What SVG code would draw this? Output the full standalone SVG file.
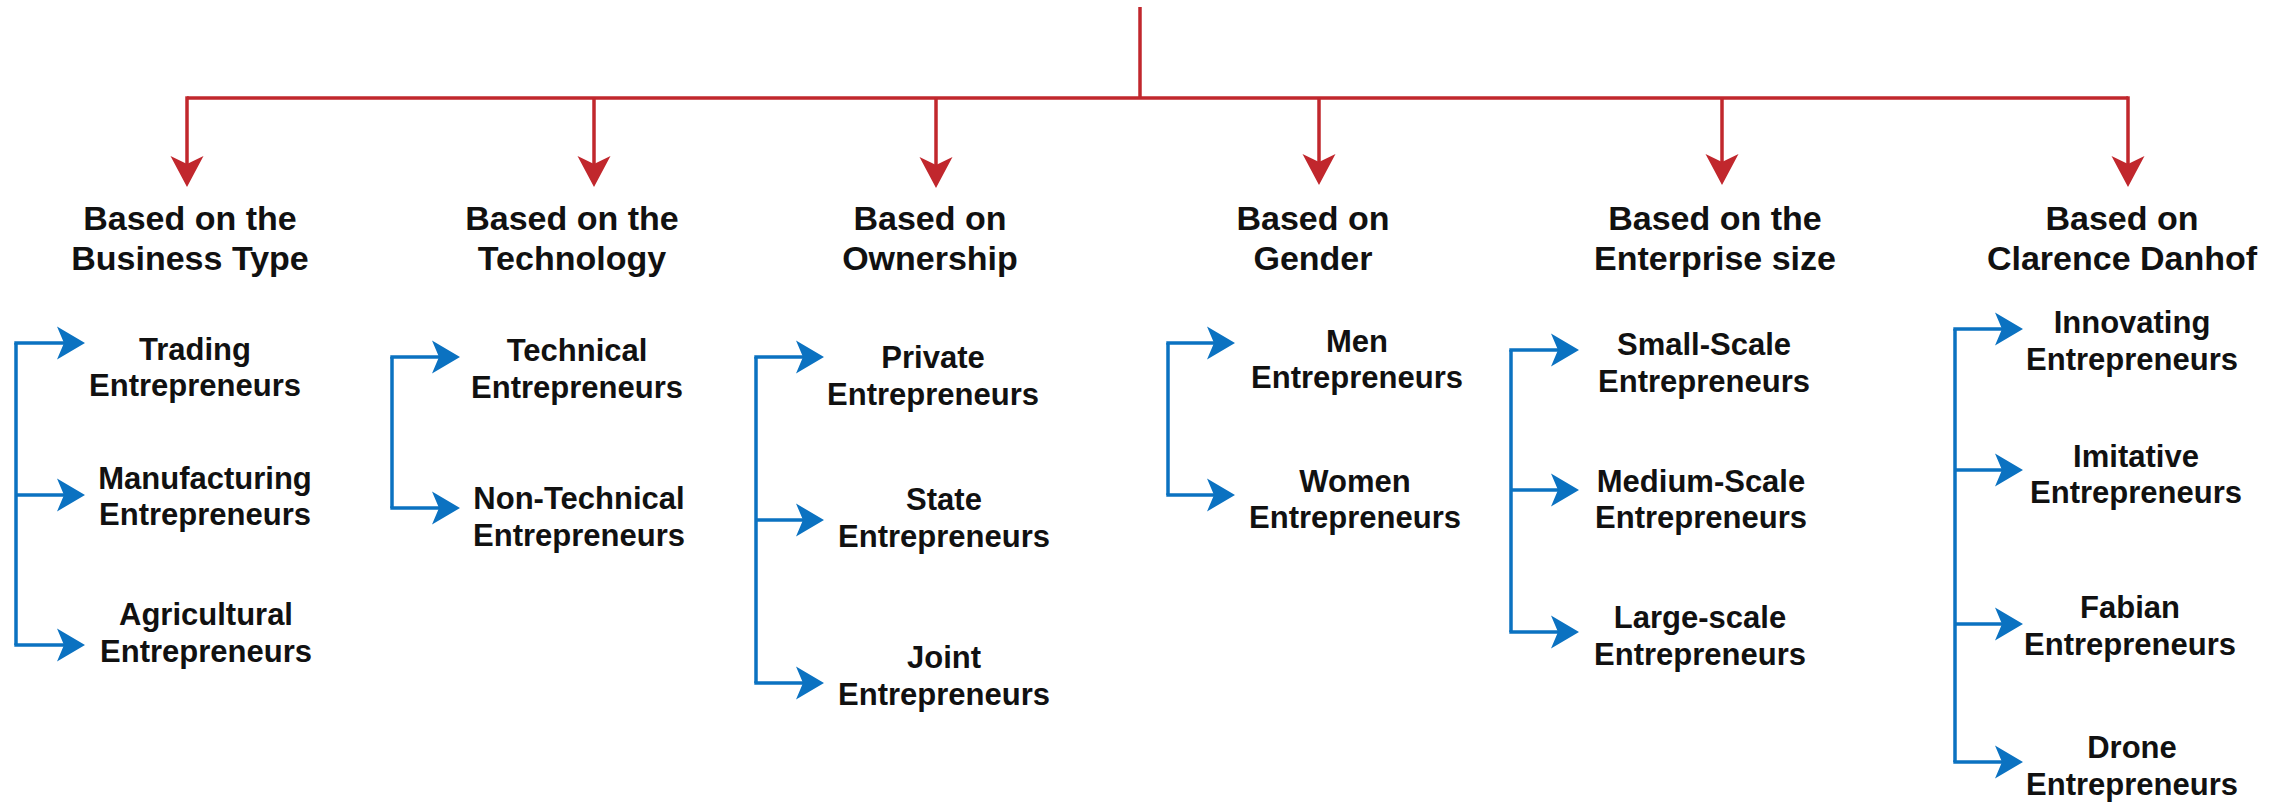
<svg xmlns="http://www.w3.org/2000/svg" width="2288" height="803" viewBox="0 0 2288 803">
<style>
text{font-family:"Liberation Sans",Arial,Helvetica,sans-serif;font-weight:bold;fill:#111;text-anchor:middle}
.h{font-size:34px}
.c{font-size:31px}
.red{stroke:#C1272D;stroke-width:3.5;fill:none}
.blue{stroke:#0B72C1;stroke-width:3.5;fill:none}
</style>
<defs>
<marker id="ar" viewBox="0 0 32 34" markerWidth="32" markerHeight="34" refX="8" refY="17" orient="auto" markerUnits="userSpaceOnUse">
<path d="M31,17 L0,0.5 L8,17 L0,33.5 Z" fill="#C1272D"/>
</marker>
<marker id="ab" viewBox="0 0 29 34" markerWidth="29" markerHeight="34" refX="7" refY="17" orient="auto" markerUnits="userSpaceOnUse">
<path d="M28,17 L0,0.5 L7,17 L0,33.5 Z" fill="#0B72C1"/>
</marker>
</defs>
<g id="connectors">
<path class="red" d="M1140,7 V98"/>
<path class="red" d="M187,98 H2128"/>
<path class="red" d="M187,96.3 V164" marker-end="url(#ar)"/>
<path class="red" d="M594,98 V164" marker-end="url(#ar)"/>
<path class="red" d="M936,98 V165" marker-end="url(#ar)"/>
<path class="red" d="M1319,98 V162" marker-end="url(#ar)"/>
<path class="red" d="M1722,98 V162" marker-end="url(#ar)"/>
<path class="red" d="M2128,96.3 V164" marker-end="url(#ar)"/>
<path class="blue" d="M16,343 V645"/>
<path class="blue" d="M14.3,343 H64" marker-end="url(#ab)"/>
<path class="blue" d="M16,495 H64" marker-end="url(#ab)"/>
<path class="blue" d="M14.3,645 H64" marker-end="url(#ab)"/>
<path class="blue" d="M392,357 V508"/>
<path class="blue" d="M390.3,357 H439" marker-end="url(#ab)"/>
<path class="blue" d="M390.3,508 H439" marker-end="url(#ab)"/>
<path class="blue" d="M756,357 V683"/>
<path class="blue" d="M754.3,357 H803" marker-end="url(#ab)"/>
<path class="blue" d="M756,520 H803" marker-end="url(#ab)"/>
<path class="blue" d="M754.3,683 H803" marker-end="url(#ab)"/>
<path class="blue" d="M1168,343 V495"/>
<path class="blue" d="M1166.3,343 H1214" marker-end="url(#ab)"/>
<path class="blue" d="M1166.3,495 H1214" marker-end="url(#ab)"/>
<path class="blue" d="M1511,350 V632"/>
<path class="blue" d="M1509.3,350 H1558" marker-end="url(#ab)"/>
<path class="blue" d="M1511,490 H1558" marker-end="url(#ab)"/>
<path class="blue" d="M1509.3,632 H1558" marker-end="url(#ab)"/>
<path class="blue" d="M1955,329 V762"/>
<path class="blue" d="M1953.3,329 H2002" marker-end="url(#ab)"/>
<path class="blue" d="M1955,470 H2002" marker-end="url(#ab)"/>
<path class="blue" d="M1955,624 H2002" marker-end="url(#ab)"/>
<path class="blue" d="M1953.3,762 H2002" marker-end="url(#ab)"/>
</g>
<g id="h-business"><text class="h" x="190" y="230">Based on the</text><text class="h" x="190" y="270">Business Type</text></g>
<g id="h-technology"><text class="h" x="572" y="230">Based on the</text><text class="h" x="572" y="270">Technology</text></g>
<g id="h-ownership"><text class="h" x="930" y="230">Based on</text><text class="h" x="930" y="270">Ownership</text></g>
<g id="h-gender"><text class="h" x="1313" y="230">Based on</text><text class="h" x="1313" y="270">Gender</text></g>
<g id="h-size"><text class="h" x="1715" y="230">Based on the</text><text class="h" x="1715" y="270">Enterprise size</text></g>
<g id="h-danhof"><text class="h" x="2122" y="230">Based on</text><text class="h" x="2122" y="270">Clarence Danhof</text></g>
<g id="trading"><text class="c" x="195" y="360">Trading</text><text class="c" x="195" y="396">Entrepreneurs</text></g>
<g id="manufacturing"><text class="c" x="205" y="489">Manufacturing</text><text class="c" x="205" y="525">Entrepreneurs</text></g>
<g id="agricultural"><text class="c" x="206" y="625">Agricultural</text><text class="c" x="206" y="662">Entrepreneurs</text></g>
<g id="technical"><text class="c" x="577" y="361">Technical</text><text class="c" x="577" y="398">Entrepreneurs</text></g>
<g id="non-technical"><text class="c" x="579" y="509">Non-Technical</text><text class="c" x="579" y="546">Entrepreneurs</text></g>
<g id="private"><text class="c" x="933" y="368">Private</text><text class="c" x="933" y="405">Entrepreneurs</text></g>
<g id="state"><text class="c" x="944" y="510">State</text><text class="c" x="944" y="547">Entrepreneurs</text></g>
<g id="joint"><text class="c" x="944" y="668">Joint</text><text class="c" x="944" y="705">Entrepreneurs</text></g>
<g id="men"><text class="c" x="1357" y="352">Men</text><text class="c" x="1357" y="388">Entrepreneurs</text></g>
<g id="women"><text class="c" x="1355" y="492">Women</text><text class="c" x="1355" y="528">Entrepreneurs</text></g>
<g id="small-scale"><text class="c" x="1704" y="355">Small-Scale</text><text class="c" x="1704" y="392">Entrepreneurs</text></g>
<g id="medium-scale"><text class="c" x="1701" y="492">Medium-Scale</text><text class="c" x="1701" y="528">Entrepreneurs</text></g>
<g id="large-scale"><text class="c" x="1700" y="628">Large-scale</text><text class="c" x="1700" y="665">Entrepreneurs</text></g>
<g id="innovating"><text class="c" x="2132" y="333">Innovating</text><text class="c" x="2132" y="370">Entrepreneurs</text></g>
<g id="imitative"><text class="c" x="2136" y="467">Imitative</text><text class="c" x="2136" y="503">Entrepreneurs</text></g>
<g id="fabian"><text class="c" x="2130" y="618">Fabian</text><text class="c" x="2130" y="655">Entrepreneurs</text></g>
<g id="drone"><text class="c" x="2132" y="758">Drone</text><text class="c" x="2132" y="795">Entrepreneurs</text></g>
</svg>
